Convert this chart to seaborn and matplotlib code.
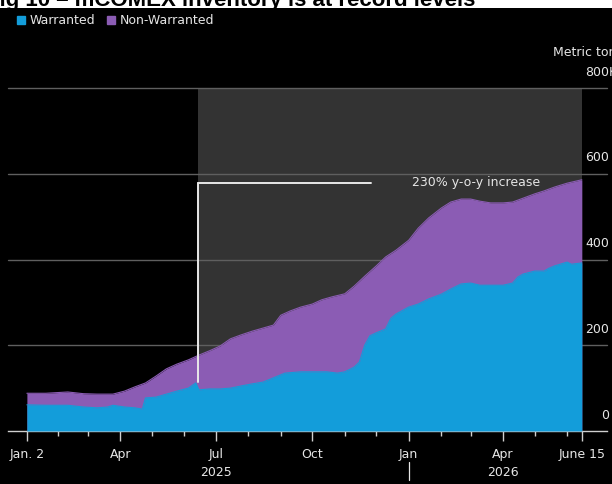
"""COMEX inventory: warranted vs non-warranted stacked area (Bloomberg style)."""

import pandas as pd
import matplotlib
matplotlib.use("Agg")
import matplotlib.pyplot as plt
import matplotlib.dates as mdates
from matplotlib import font_manager
from matplotlib.lines import Line2D
from matplotlib.patches import Rectangle
import seaborn as sns

# ---------------------------------------------------------------------------
# Data (thousand metric tons)
# ---------------------------------------------------------------------------
TOTAL_DATES = [
    "2025-01-02", "2025-01-20", "2025-02-10", "2025-02-25", "2025-03-10",
    "2025-03-25", "2025-04-05", "2025-04-15", "2025-04-25", "2025-05-05",
    "2025-05-15", "2025-05-25", "2025-06-05", "2025-06-15", "2025-06-25",
    "2025-07-05", "2025-07-15", "2025-07-25", "2025-08-05", "2025-08-15",
    "2025-08-25", "2025-09-01", "2025-09-10", "2025-09-20", "2025-10-01",
    "2025-10-10", "2025-10-20", "2025-11-01", "2025-11-10", "2025-11-20",
    "2025-12-01", "2025-12-10", "2025-12-20", "2026-01-01", "2026-01-10",
    "2026-01-20", "2026-02-01", "2026-02-10", "2026-02-20", "2026-03-01",
    "2026-03-10", "2026-03-20", "2026-04-01", "2026-04-10", "2026-04-20",
    "2026-05-01", "2026-05-10", "2026-05-20", "2026-06-01", "2026-06-15",
]
TOTAL = [
    88, 88, 91, 87, 86,
    86, 93, 103, 112, 128,
    145, 156, 166, 177, 187,
    198, 215, 224, 233, 240,
    247, 270, 280, 289, 296,
    306, 313, 320, 338, 361,
    385, 406, 422, 445, 473,
    497, 520, 534, 541, 541,
    536, 532, 532, 534, 543,
    553, 560, 569, 578, 586,
]

WARRANTED_DATES = [
    "2025-01-02", "2025-01-20", "2025-02-10", "2025-02-25", "2025-03-10",
    "2025-03-20", "2025-03-25", "2025-04-05", "2025-04-15", "2025-04-22",
    "2025-04-25", "2025-05-05", "2025-05-15", "2025-05-25", "2025-06-05",
    "2025-06-12", "2025-06-15", "2025-06-25", "2025-07-05", "2025-07-15",
    "2025-07-25", "2025-08-05", "2025-08-15", "2025-08-25", "2025-09-05",
    "2025-09-20", "2025-10-01", "2025-10-15", "2025-10-25", "2025-11-01",
    "2025-11-10", "2025-11-15", "2025-11-20", "2025-11-25", "2025-12-01",
    "2025-12-10", "2025-12-15", "2025-12-20", "2026-01-01", "2026-01-10",
    "2026-01-20", "2026-02-01", "2026-02-10", "2026-02-20", "2026-03-01",
    "2026-03-10", "2026-03-20", "2026-04-01", "2026-04-10", "2026-04-15",
    "2026-04-20", "2026-05-01", "2026-05-10", "2026-05-15", "2026-05-20",
    "2026-06-01", "2026-06-05", "2026-06-15",
]
WARRANTED = [
    61, 60, 60, 56, 54,
    56, 60, 56, 54, 51,
    77, 79, 86, 93, 100,
    112, 96, 98, 98, 100,
    105, 110, 114, 124, 135,
    138, 138, 138, 135, 138,
    149, 161, 200, 222, 229,
    238, 263, 273, 289, 296,
    308, 319, 331, 343, 345,
    340, 340, 340, 345, 359,
    366, 373, 373, 380, 385,
    394, 389, 392,
]

Y_TICKS = [0, 200, 400, 600, 800]
Y_LABELS = ["0", "200", "400", "600", "800"]

X_TICK_DATES = ["2025-01-02", "2025-04-01", "2025-07-01", "2025-10-01",
                "2026-01-01", "2026-04-01", "2026-06-15"]
X_TICK_LABELS = ["Jan. 2", "Apr", "Jul", "Oct", "Jan", "Apr", "June 15"]
YEAR_LABELS = [("2025-07-01", "2025"), ("2026-04-01", "2026")]

SHADE_START, SHADE_END = "2025-06-14", "2026-06-15"
ANNOT_TOP, ANNOT_BOTTOM, ANNOT_END = 579, 115, "2025-11-26"
ANNOT_TEXT = "230% y-o-y increase"

# ---------------------------------------------------------------------------
# Style
# ---------------------------------------------------------------------------
BLUE = "#139dda"
PURPLE = "#8b5cb4"
SHADE = "#333333"
GRID = "#5f5f5f"
TEXT = "#e6e6e6"

sns.set_theme(style="dark")
names = {f.name for f in font_manager.fontManager.ttflist}
NARROW = "Liberation Sans Narrow" if "Liberation Sans Narrow" in names else "DejaVu Sans"
BOLD = "Liberation Sans" if "Liberation Sans" in names else "DejaVu Sans"
plt.rcParams["font.family"] = [NARROW, "DejaVu Sans"]
FS = 11 if NARROW != "DejaVu Sans" else 9

total = pd.DataFrame({"date": pd.to_datetime(TOTAL_DATES), "value": TOTAL})
warr = pd.DataFrame({"date": pd.to_datetime(WARRANTED_DATES), "value": WARRANTED})

W, H = 612, 484
fig = plt.figure(figsize=(W / 100, H / 100), dpi=100, facecolor="black")
ax = fig.add_axes([8 / W, 1 - 431 / H, (607 - 8) / W, (431 - 88) / H])
ax.set_facecolor("black")

# shaded year window
ax.axvspan(pd.Timestamp(SHADE_START), pd.Timestamp(SHADE_END),
           ymin=0, ymax=1, color=SHADE, lw=0, zorder=0)
for y in Y_TICKS[1:]:
    ax.axhline(y, color=GRID, lw=1, zorder=1, clip_on=False)

# stacked areas
ax.fill_between(total["date"], 0, total["value"], color=PURPLE, lw=0, zorder=2)
ax.fill_between(warr["date"], 0, warr["value"], color=BLUE, lw=0, zorder=3)
sns.lineplot(data=total, x="date", y="value", color=PURPLE, lw=0.8, ax=ax, zorder=2)
sns.lineplot(data=warr, x="date", y="value", color=BLUE, lw=0.8, ax=ax, zorder=3)

# annotation
x0 = pd.Timestamp(SHADE_START)
ax.plot([x0, x0], [ANNOT_BOTTOM, ANNOT_TOP], color="#e8e8e8", lw=1.4, zorder=4)
ax.plot([x0, pd.Timestamp(ANNOT_END)], [ANNOT_TOP, ANNOT_TOP],
        color="#e8e8e8", lw=1.4, zorder=4)
ax.text(pd.Timestamp("2026-03-06"), ANNOT_TOP, ANNOT_TEXT, color=TEXT,
        fontsize=FS, ha="center", va="center", zorder=5)

ax.set_xlim(pd.Timestamp("2024-12-15"), pd.Timestamp("2026-07-09"))
ax.set_ylim(0, 800)
ax.set_xlabel("")
ax.set_ylabel("")
ax.grid(False)
for side in ["top", "right", "left"]:
    ax.spines[side].set_visible(False)
ax.spines["bottom"].set_color("#cfcfcf")
ax.spines["bottom"].set_linewidth(1)

ax.set_xticks(pd.to_datetime(X_TICK_DATES))
ax.set_xticklabels(X_TICK_LABELS, color=TEXT, fontsize=FS)
ax.xaxis.set_minor_locator(mdates.MonthLocator(bymonth=[2, 3, 5, 6, 8, 9, 11, 12]))
ax.tick_params(axis="x", which="major", length=7, width=1, color="#cfcfcf",
               direction="out", pad=5, bottom=True)
ax.tick_params(axis="x", which="minor", length=3.5, width=1, color="#cfcfcf",
               direction="out", bottom=True)
ax.set_yticks([])

# y labels on the right, sitting above each grid line
for y, lab in zip(Y_TICKS, Y_LABELS):
    ax.annotate(lab, xy=(1.003, y), xycoords=("axes fraction", "data"),
                xytext=(0, 11.5), textcoords="offset points", ha="right",
                va="center", color=TEXT, fontsize=FS, annotation_clip=False)
ax.annotate("K", xy=(1.003, 800), xycoords=("axes fraction", "data"),
            xytext=(0, 11.5), textcoords="offset points", ha="left",
            va="center", color=TEXT, fontsize=FS, annotation_clip=False)
fig.text(553 / W, 1 - 53 / H, "Metric tons", color=TEXT, fontsize=FS,
         ha="left", va="center")

# year labels and divider
for d, lab in YEAR_LABELS:
    x = mdates.date2num(pd.Timestamp(d))
    ax.annotate(lab, xy=(x, 0), xycoords=("data", "axes fraction"),
                xytext=(0, -30), textcoords="offset points", ha="center",
                va="center", color=TEXT, fontsize=FS, annotation_clip=False)
xd = mdates.date2num(pd.Timestamp("2026-01-01"))
ax.plot([xd, xd], [-0.09, -0.143], transform=ax.get_xaxis_transform(),
        color=TEXT, lw=0.9, clip_on=False)

# legend
handles = [Line2D([], [], marker="s", ls="", color=BLUE, markersize=6),
           Line2D([], [], marker="s", ls="", color=PURPLE, markersize=6)]
fig.legend(handles, ["Warranted", "Non-Warranted"], loc="center left",
           bbox_to_anchor=(17 / W, 1 - 21 / H), ncol=2, frameon=False,
           labelcolor=TEXT, fontsize=FS, handlelength=0.6, handletextpad=0.4,
           columnspacing=1.0, borderaxespad=0, borderpad=0)

# cropped title strip from the source page
fig.add_artist(Rectangle((0, 1 - 8 / H), 1, 8 / H, transform=fig.transFigure,
                         facecolor="white", edgecolor="none", zorder=10))
fig.text(-14 / W, 1 - 6 / H, "Fig 10 – mCOMEX inventory is at record levels",
         fontsize=16, fontweight="bold", family=BOLD, color="black",
         ha="left", va="baseline", zorder=11)

fig.savefig("out.png", dpi=100, facecolor="black")
